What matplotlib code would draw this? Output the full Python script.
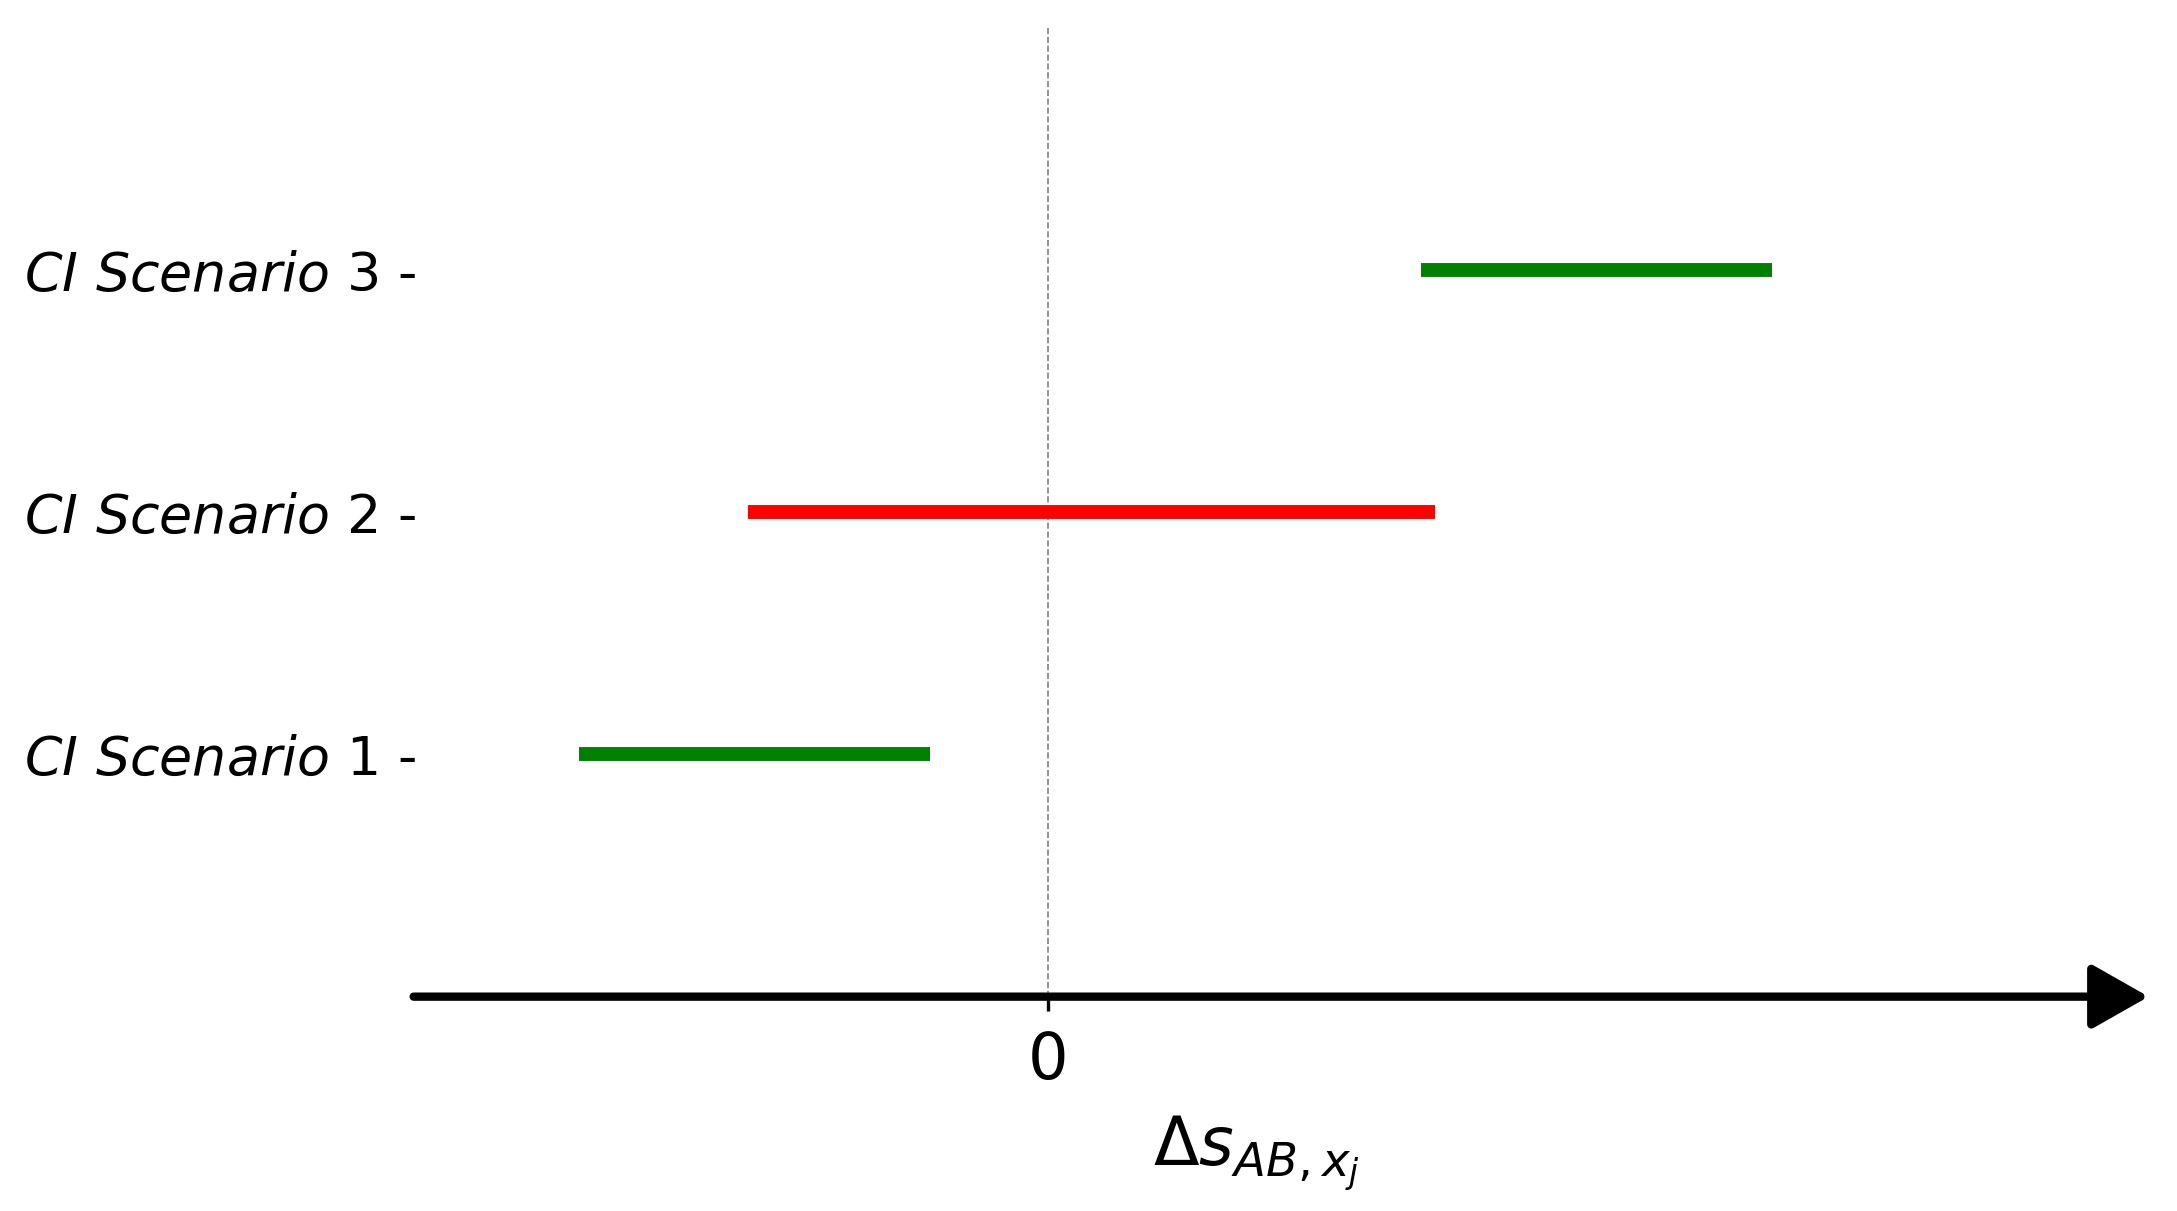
import matplotlib.pyplot as plt
import numpy as np

# confidence intervals, one per scenario
scenarios = [r'$CI\ Scenario$ 1 -', r'$CI\ Scenario$ 2 -', r'$CI\ Scenario$ 3 -']
lower = [-3.38, -2.16, 2.69]
upper = [-0.85, 2.79, 5.22]
colours = ['green', 'red', 'green']
ypos = [1, 2, 3]

xmin, xmax = -4.57, 7.57
xtip = 7.93  # arrow head sticks out past the axes

fig = plt.figure(figsize=(21.77 / 2, 12.11 / 2), dpi=200)
ax = fig.add_axes([0.190, 0.177, 0.774, 0.800])

for y, lo, hi, c in zip(ypos, lower, upper, colours):
    ax.plot([lo, hi], [y, y], color=c, lw=5, solid_capstyle='butt')

ax.axvline(0, color='grey', lw=0.6, ls='--', zorder=0)

ax.annotate('', xy=(xtip, 0), xytext=(xmin, 0),
            arrowprops=dict(arrowstyle='-|>,head_length=0.88,head_width=0.5',
                            lw=3, color='black', mutation_scale=20,
                            shrinkA=0, shrinkB=0),
            annotation_clip=False)

ax.set_xlim(xmin, xmax)
ax.set_ylim(0, 4)
for s in ax.spines.values():
    s.set_visible(False)

ax.set_xticks([0])
ax.set_xticklabels(['0'], fontsize=23)
ax.tick_params(axis='x', length=5, width=1.2, pad=7)
ax.set_yticks(ypos)
ax.set_yticklabels(scenarios, fontsize=19.4)
ax.tick_params(axis='y', length=0, pad=-1)
ax.set_xlabel(r'$\Delta s_{AB,x_j}$', fontsize=24, labelpad=8)

fig.savefig('out.png', dpi=200)
